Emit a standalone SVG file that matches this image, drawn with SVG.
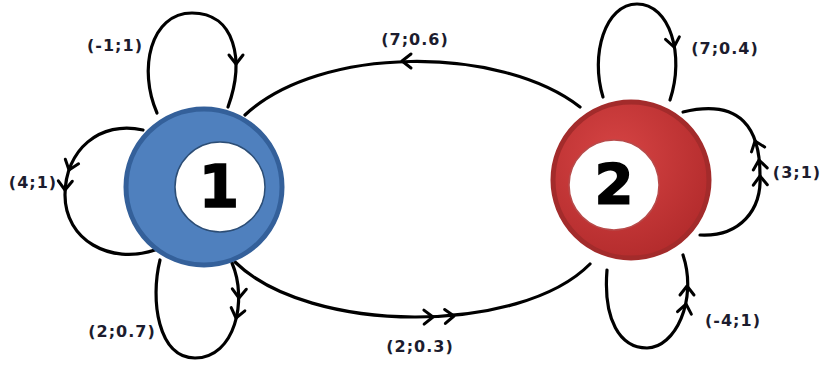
<svg xmlns="http://www.w3.org/2000/svg" xmlns:xlink="http://www.w3.org/1999/xlink" width="821" height="365" viewBox="0 0 821 365">
  <style>
    .edge { fill: none; stroke: #000; stroke-width: 3.2; stroke-linecap: round; }
    .lbl { font-family: "DejaVu Sans", "Liberation Sans", sans-serif; font-weight: bold; font-size: 16px; letter-spacing: 1px; fill: #1c1c2e; text-anchor: middle; }
    .num { font-family: "DejaVu Sans", "Liberation Sans", sans-serif; font-weight: bold; fill: #000; stroke: #000; stroke-width: 1.6; text-anchor: middle; }
  </style>
  <defs>
    <path id="chev" d="M-9,-7 L0,0 L-9,7" fill="none" stroke="#000" stroke-width="3" stroke-linecap="round" stroke-linejoin="round"/>
    <radialGradient id="redBall" cx="0.4" cy="0.35" r="0.75">
      <stop offset="0" stop-color="#d64444"/>
      <stop offset="1" stop-color="#b0292a"/>
    </radialGradient>
  </defs>

  <rect width="821" height="365" fill="#fff"/>

  <g id="connectors">
    <!-- transitions between states -->
    <path class="edge" d="M580,107 C500,45 320,45 245,115"/>
    <use href="#chev" transform="translate(402,61) rotate(180)"/>
    <path class="edge" d="M235,262 C310,335 520,335 590,264"/>
    <use href="#chev" transform="translate(433,317) rotate(-1)"/>
    <use href="#chev" transform="translate(454,316) rotate(-3)"/>

    <!-- self loops on state 1 -->
    <path class="edge" d="M157,113 C138,70 150,13 192,13 C235,13 245,60 228,107"/>
    <use href="#chev" transform="translate(236,64) rotate(90)"/>
    <path class="edge" d="M143,130 C100,120 65,150 65,195 C65,240 110,265 155,250"/>
    <use href="#chev" transform="translate(69,170) rotate(109)"/>
    <use href="#chev" transform="translate(65,190) rotate(92)"/>
    <path class="edge" d="M232,263 C248,300 235,358 195,358 C158,358 150,300 160,260"/>
    <use href="#chev" transform="translate(239,298) rotate(92)"/>
    <use href="#chev" transform="translate(236,318) rotate(103)"/>

    <!-- self loops on state 2 -->
    <path class="edge" d="M603,97 C590,55 605,4 637,4 C670,4 685,55 670,100"/>
    <use href="#chev" transform="translate(674,47) rotate(80)"/>
    <path class="edge" d="M700,235 C740,237 762,210 760,175 C760,130 742,98 683,112"/>
    <use href="#chev" transform="translate(760,176) rotate(-92)"/>
    <use href="#chev" transform="translate(759,160) rotate(-98)"/>
    <use href="#chev" transform="translate(755,141) rotate(-110)"/>
    <path class="edge" d="M607,270 C603,320 620,348 647,348 C675,348 698,300 683,255"/>
    <use href="#chev" transform="translate(687,286) rotate(-90)"/>
    <use href="#chev" transform="translate(686,304) rotate(-80)"/>
  </g>

  <g id="labels">
    <text class="lbl" x="115" y="51">(-1;1)</text>
    <text class="lbl" x="33" y="188">(4;1)</text>
    <text class="lbl" x="122" y="337">(2;0.7)</text>
    <text class="lbl" x="415" y="45">(7;0.6)</text>
    <text class="lbl" x="420" y="352">(2;0.3)</text>
    <text class="lbl" x="725" y="54">(7;0.4)</text>
    <text class="lbl" x="797" y="178">(3;1)</text>
    <text class="lbl" x="733" y="326">(-4;1)</text>
  </g>

  <g id="state1">
    <circle cx="204" cy="187" r="78" fill="#4f80be" stroke="#34609a" stroke-width="5"/>
    <circle cx="220" cy="187" r="45" fill="#fff" stroke="#2c4d75" stroke-width="1.5"/>
    <text class="num" x="219" y="207" font-size="58">1</text>
  </g>

  <g id="state2">
    <circle cx="631" cy="180" r="78" fill="url(#redBall)" stroke="#a32b2b" stroke-width="5"/>
    <circle cx="614" cy="185" r="45" fill="#fff" stroke="#b84a4a" stroke-width="1.5"/>
    <text class="num" x="614" y="203" font-size="56">2</text>
  </g>
</svg>
